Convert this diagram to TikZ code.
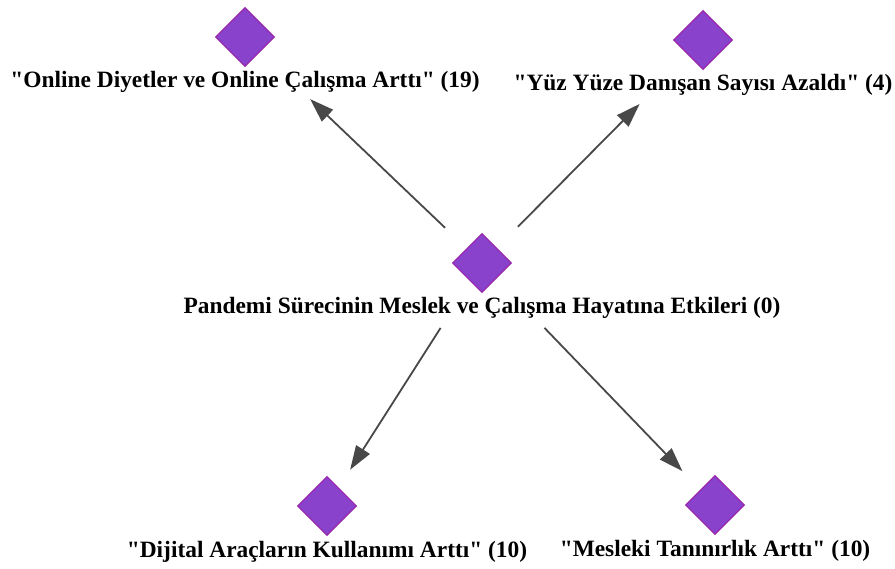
\documentclass[tikz,border=0pt]{standalone}
\usepackage{fontspec}
\setmainfont{Liberation Serif}[Ligatures=TeXOff]
\usetikzlibrary{shapes.geometric,arrows.meta}
\definecolor{gemfill}{RGB}{137,66,204}
\definecolor{gemline}{RGB}{152,40,172}
\definecolor{edgegray}{RGB}{72,72,72}
\tikzset{
  gem/.style={diamond, fill=gemfill, draw=gemline, line width=1.2pt,
    minimum width=59pt, minimum height=59pt, inner sep=0pt},
  lbl/.style={font=\bfseries\fontsize{23.4}{28}\selectfont, anchor=base, inner sep=0pt},
  link/.style={draw=edgegray, line width=1.8pt,
    -{Triangle[length=24pt,width=16pt]}}
}
\begin{document}
\begin{tikzpicture}[x=1pt,y=-1pt]
  \useasboundingbox (0,0) rectangle (895,569);
  % diamonds
  \node[gem] (c)  at (482,263) {};
  \node[gem] (tl) at (245,37)  {};
  \node[gem] (tr) at (703,40)  {};
  \node[gem] (bl) at (327,506) {};
  \node[gem] (br) at (715,505) {};
  % captions under each diamond
  \node[lbl] (cl)  at ([yshift=-51pt]c.center)  {Pandemi Sürecinin Meslek ve Çalışma Hayatına Etkileri (0)};
  \node[lbl] (tll) at ([yshift=-51pt]tl.center) {"Online Diyetler ve Online Çalışma Arttı" (19)};
  \node[lbl] (trl) at ([yshift=-51pt]tr.center) {"Yüz Yüze Danışan Sayısı Azaldı" (4)};
  \node[lbl] (bll) at ([yshift=-51pt]bl.center) {"Dijital Araçların Kullanımı Arttı" (10)};
  \node[lbl] (brl) at ([yshift=-51pt]br.center) {"Mesleki Tanınırlık Arttı" (10)};
  % edges from the central theme
  \draw[link, shorten <=51pt, shorten >=90pt] (c.center) -- (tl.center);
  \draw[link, shorten <=51pt, shorten >=90pt] (c.center) -- (tr.center);
  \draw[link, shorten <=77pt, shorten >=43pt] (c.center) -- (bl.center);
  \draw[link, shorten <=90pt, shorten >=47pt] (c.center) -- (br.center);
\end{tikzpicture}
\end{document}
